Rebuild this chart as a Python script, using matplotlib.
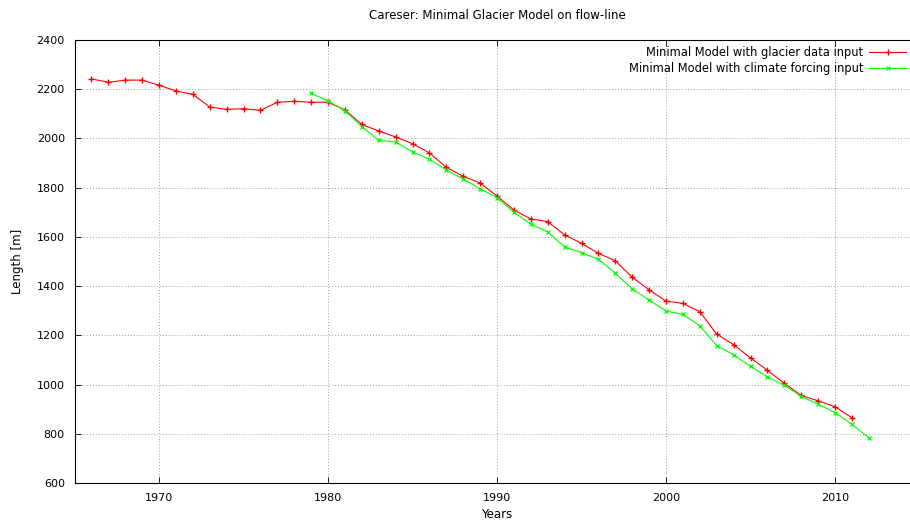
import matplotlib
matplotlib.use("Agg")
import matplotlib.pyplot as plt

# Glacier length (m)
years_glacier = list(range(1966, 2012))
length_glacier = [2242, 2228, 2237, 2237, 2216, 2193, 2179, 2128, 2118, 2121,
                  2114, 2147, 2151, 2147, 2147, 2116, 2057, 2030, 2006, 1979,
                  1941, 1883, 1846, 1819, 1766, 1709, 1673, 1662, 1608, 1574,
                  1533, 1503, 1436, 1385, 1339, 1330, 1296, 1205, 1162, 1108,
                  1058, 1005, 956, 934, 910, 865]

years_climate = list(range(1979, 2013))
length_climate = [2183, 2153, 2112, 2048, 1992, 1986, 1945, 1916, 1872, 1835,
                  1796, 1759, 1700, 1652, 1620, 1559, 1536, 1509, 1452, 1389,
                  1343, 1299, 1285, 1239, 1158, 1121, 1074, 1031, 997, 952,
                  920, 886, 838, 784]

x_ticks = [1970, 1980, 1990, 2000, 2010]
y_ticks = [600, 800, 1000, 1200, 1400, 1600, 1800, 2000, 2200, 2400]

plt.rcParams['font.family'] = 'DejaVu Sans'

fig = plt.figure(figsize=(9.1, 5.22), dpi=100)
W, H = 910, 522
px_per_year = 16.9
ax = fig.add_axes([74.5 / W, 1 - 483 / H, 50 * px_per_year / W, 443 / H])

ax.plot(years_glacier, length_glacier, color='#ff0000', lw=0.8,
        marker='+', markersize=5, markeredgewidth=1.0,
        label='Minimal Model with glacier data input')
ax.plot(years_climate, length_climate, color='#00ff00', lw=0.8,
        marker='x', markersize=3.5, markeredgewidth=0.9,
        label='Minimal Model with climate forcing input')

ax.set_xlim(1965, 2015)
ax.set_ylim(600, 2400)
ax.set_xticks(x_ticks)
ax.set_yticks(y_ticks)
ax.tick_params(direction='in', top=True, right=True, labelsize=8, length=4,
               width=0.6, pad=7)
ax.grid(True, color='#a0a0a0', linestyle=(0, (1, 2)), linewidth=0.7)
for s in ax.spines.values():
    s.set_linewidth(0.8)

ax.set_title('Careser: Minimal Glacier Model on flow-line', fontsize=8.5, pad=15)
ax.set_xlabel('Years', fontsize=8.5, labelpad=4)
ax.set_ylabel('Length [m]', fontsize=8.5, labelpad=9)

leg = ax.legend(loc='upper right', bbox_to_anchor=(906 / W, 1 - 46 / H),
                bbox_transform=fig.transFigure, frameon=False,
                markerfirst=False, fontsize=8.3, handlelength=3.2,
                handletextpad=0.5, labelspacing=0.25, borderaxespad=0,
                borderpad=0)

fig.savefig('out.png', dpi=100)
